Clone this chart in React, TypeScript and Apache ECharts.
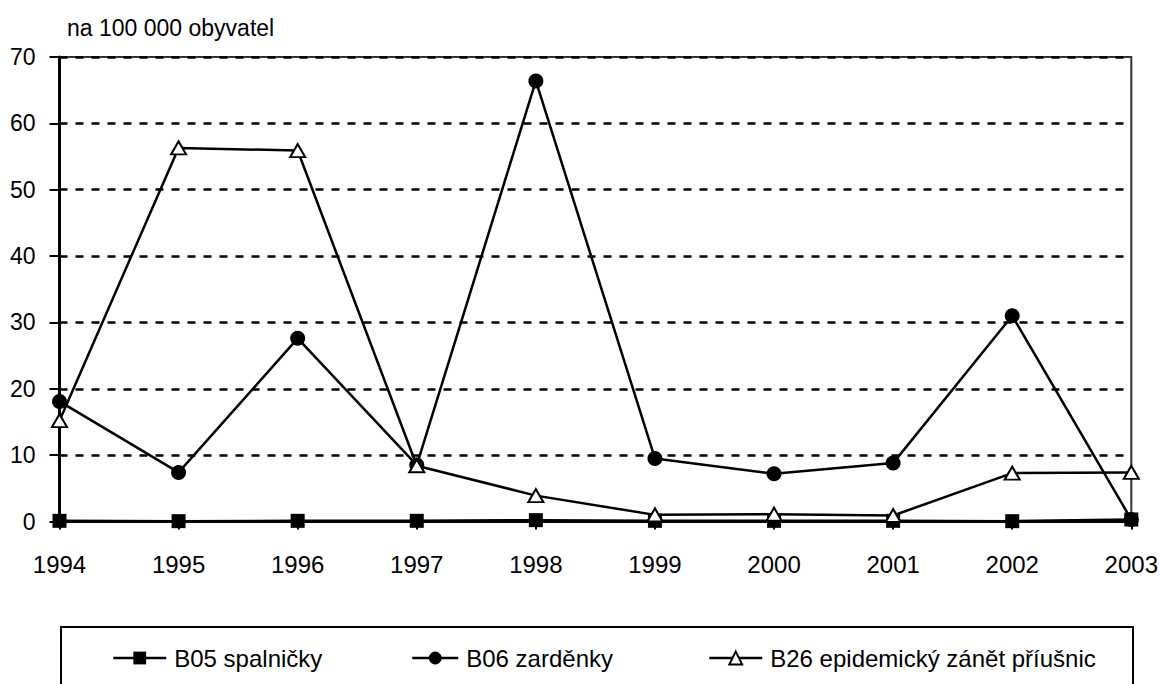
import React, { useEffect, useRef } from "react";
import * as echarts from "echarts";

const years = ["1994", "1995", "1996", "1997", "1998", "1999", "2000", "2001", "2002", "2003"];
const spalnicky = [0.1, 0.05, 0.1, 0.1, 0.2, 0.1, 0.1, 0.1, 0.05, 0.3];
const zardenky = [18.1, 7.4, 27.6, 8.5, 66.4, 9.5, 7.2, 8.8, 31.0, 0.3];
const priusnice = [15.2, 56.3, 55.9, 8.4, 3.9, 1.0, 1.1, 0.9, 7.3, 7.4];
const seriesNames = ["B05 spalničky", "B06 zarděnky", "B26 epidemický zánět příušnic"];
const yTicks = { min: 0, max: 70, interval: 10 };
const unitLabel = "na 100 000 obyvatel";

const FONT = "'Liberation Sans', Arial, sans-serif";

export default function App() {
  const ref = useRef<HTMLDivElement>(null);
  useEffect(() => {
    document.body.style.margin = "0";
    const chart = echarts.init(ref.current!, null, { renderer: "svg" });
    const lineBase = { color: "#000", width: 2.5 };
    const legendText = { color: "#000", fontSize: 24, fontFamily: FONT, padding: [0, 0, 0, 3] };
    const legendLine = { color: "#000", width: 2.5 };
    chart.setOption({
      animation: false,
      backgroundColor: "#fff",
      title: {
        text: unitLabel,
        left: 62,
        top: 11,
        textStyle: { color: "#000", fontSize: 23, fontWeight: "normal", fontFamily: FONT },
      },
      grid: {
        left: 59.5,
        right: 29.5,
        top: 57,
        bottom: 162.5,
        show: true,
        borderColor: "#333",
        borderWidth: 2,
        backgroundColor: "transparent",
      },
      xAxis: {
        type: "category",
        data: years,
        boundaryGap: false,
        axisLine: { show: true, lineStyle: { color: "#000", width: 3 } },
        axisTick: { show: true, length: 8, lineStyle: { color: "#000", width: 2 } },
        axisLabel: { color: "#000", fontSize: 24, fontFamily: FONT, margin: 31 },
        splitLine: { show: false },
      },
      yAxis: {
        type: "value",
        min: yTicks.min,
        max: yTicks.max,
        interval: yTicks.interval,
        axisLine: { show: true, lineStyle: { color: "#000", width: 3 } },
        axisTick: { show: true, length: 10, lineStyle: { color: "#000", width: 2 } },
        axisLabel: { color: "#000", fontSize: 23, fontFamily: FONT, margin: 24 },
        splitLine: { show: true, lineStyle: { color: "#000", width: 2.5, type: [8, 8] } },
      },
      legend: [
        {
          data: [seriesNames[0]],
          left: 107,
          top: 641,
          itemWidth: 53,
          itemHeight: 16,
          lineStyle: legendLine,
          textStyle: legendText,
        },
        {
          data: [seriesNames[1]],
          left: 406,
          top: 641,
          itemWidth: 46,
          itemHeight: 16,
          lineStyle: legendLine,
          textStyle: legendText,
        },
        {
          data: [seriesNames[2]],
          left: 703,
          top: 641,
          itemWidth: 53,
          itemHeight: 16,
          lineStyle: legendLine,
          textStyle: legendText,
        },
      ],
      graphic: [
        {
          type: "rect",
          shape: { x: 61, y: 627, width: 1072, height: 80 },
          style: { fill: "none", stroke: "#000", lineWidth: 2 },
          silent: true,
        },
      ],
      series: [
        {
          name: seriesNames[0],
          type: "line",
          data: spalnicky,
          symbol: "rect",
          symbolSize: 14,
          itemStyle: { color: "#000" },
          lineStyle: lineBase,
          z: 3,
        },
        {
          name: seriesNames[1],
          type: "line",
          data: zardenky,
          symbol: "circle",
          symbolSize: 15,
          itemStyle: { color: "#000" },
          lineStyle: lineBase,
          z: 4,
        },
        {
          name: seriesNames[2],
          type: "line",
          data: priusnice,
          symbol: "triangle",
          symbolSize: [15, 13],
          itemStyle: { color: "#fff", borderColor: "#000", borderWidth: 2 },
          lineStyle: lineBase,
          z: 5,
        },
      ],
    });
    return () => chart.dispose();
  }, []);
  return <div ref={ref} style={{ width: 1161, height: 684 }} />;
}
